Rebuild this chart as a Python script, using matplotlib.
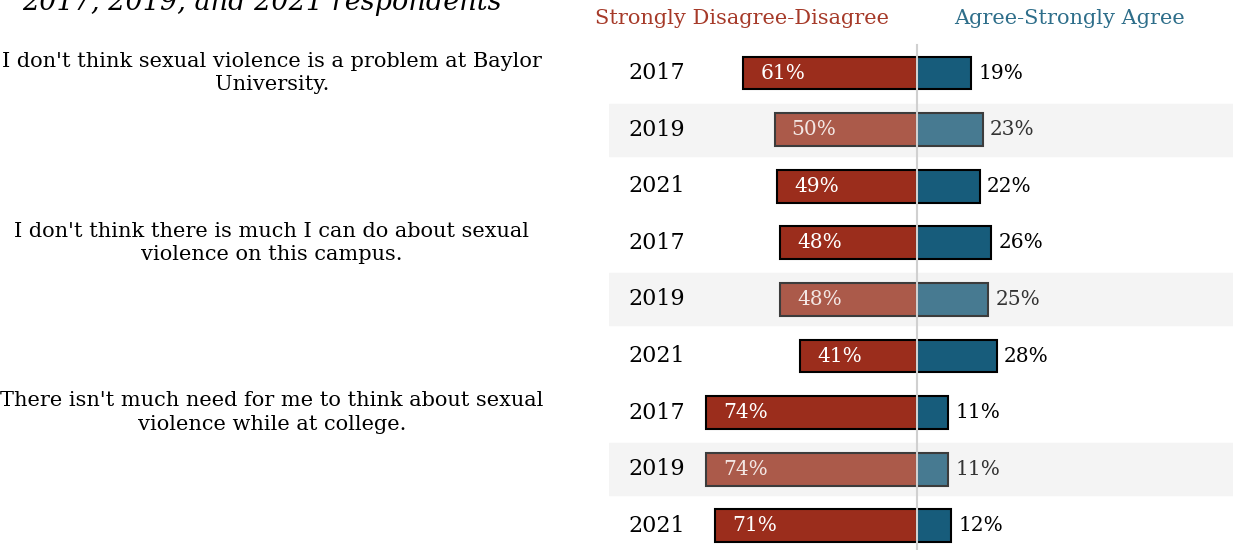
import matplotlib
matplotlib.use("Agg")
import matplotlib.pyplot as plt
import matplotlib.transforms as mtransforms

questions = [
    "I don't think sexual violence is a problem at Baylor\nUniversity.",
    "I don't think there is much I can do about sexual\nviolence on this campus.",
    "There isn't much need for me to think about sexual\nviolence while at college.",
]
years = ["2017", "2019", "2021"] * 3
disagree = [61, 50, 49, 48, 48, 41, 74, 74, 71]
agree = [19, 23, 22, 26, 25, 28, 11, 11, 12]

RED = "#9b2d1c"
RED_LIGHT = "#ab5a4a"
BLUE = "#175c7b"
BLUE_LIGHT = "#477a91"

plt.rcParams["font.family"] = ["DejaVu Serif"]

W, H = 1233, 550
fig = plt.figure(figsize=(W / 100, H / 100), dpi=100)

# pixel layout: center line at x=917, 2.85 px per percent, rows every 56.6 px
px_per = 2.85
x0 = 917
row0, row_step = 73, 56.6
ax = fig.add_axes([609 / W, 0, 1 - 609 / W, 1])
ax.set_xlim((609 - x0) / px_per, (W - x0) / px_per)
ax.set_ylim((H - row0) / row_step, -row0 / row_step)
ax.axis("off")

for i, (yr, d, a) in enumerate(zip(years, disagree, agree)):
    light = yr == "2019"
    if light:
        ax.axhspan(i - 0.46, i + 0.46, color="#f4f4f4", zorder=0)
    edge = "#3c3c3c" if light else "black"
    ax.barh(i, -d, height=0.58, color=RED_LIGHT if light else RED,
            edgecolor=edge, linewidth=1.5, zorder=2)
    ax.barh(i, a, height=0.58, color=BLUE_LIGHT if light else BLUE,
            edgecolor=edge, linewidth=1.5, zorder=2)
    ax.text(-d + 6, i, f"{d}%", color="#f3e6e3" if light else "white",
            fontsize=14.5, va="center", ha="left", zorder=3)
    ax.text(a + 2.5, i, f"{a}%", color="#333333" if light else "black",
            fontsize=14.5, va="center", ha="left", zorder=3)
    ax.text((628 - x0) / px_per, i, yr, color="black", fontsize=16,
            va="center", ha="left", zorder=3)

ax.plot([0, 0], [-0.5, 9], color="#d0d0d0", linewidth=1.5, zorder=4,
        clip_on=False)

ax.text((742 - x0) / px_per, (18 - row0) / row_step,
        "Strongly Disagree-Disagree", color="#a63a29", fontsize=15,
        ha="center", va="center")
ax.text((1069 - x0) / px_per, (18 - row0) / row_step,
        "Agree-Strongly Agree", color="#2e6e8a", fontsize=15,
        ha="center", va="center")

trans = mtransforms.blended_transform_factory(fig.transFigure, ax.transData)
for k, q in enumerate(questions):
    fig.text(272 / W, k * 3, q, transform=trans, fontsize=15,
             ha="center", va="center", multialignment="center",
             linespacing=1.3)

fig.text(262 / W, 1 - 10 / H, "2017, 2019, and 2021 respondents",
         fontsize=19.5, style="italic", ha="center", va="baseline")

fig.savefig("out.png", dpi=100)
